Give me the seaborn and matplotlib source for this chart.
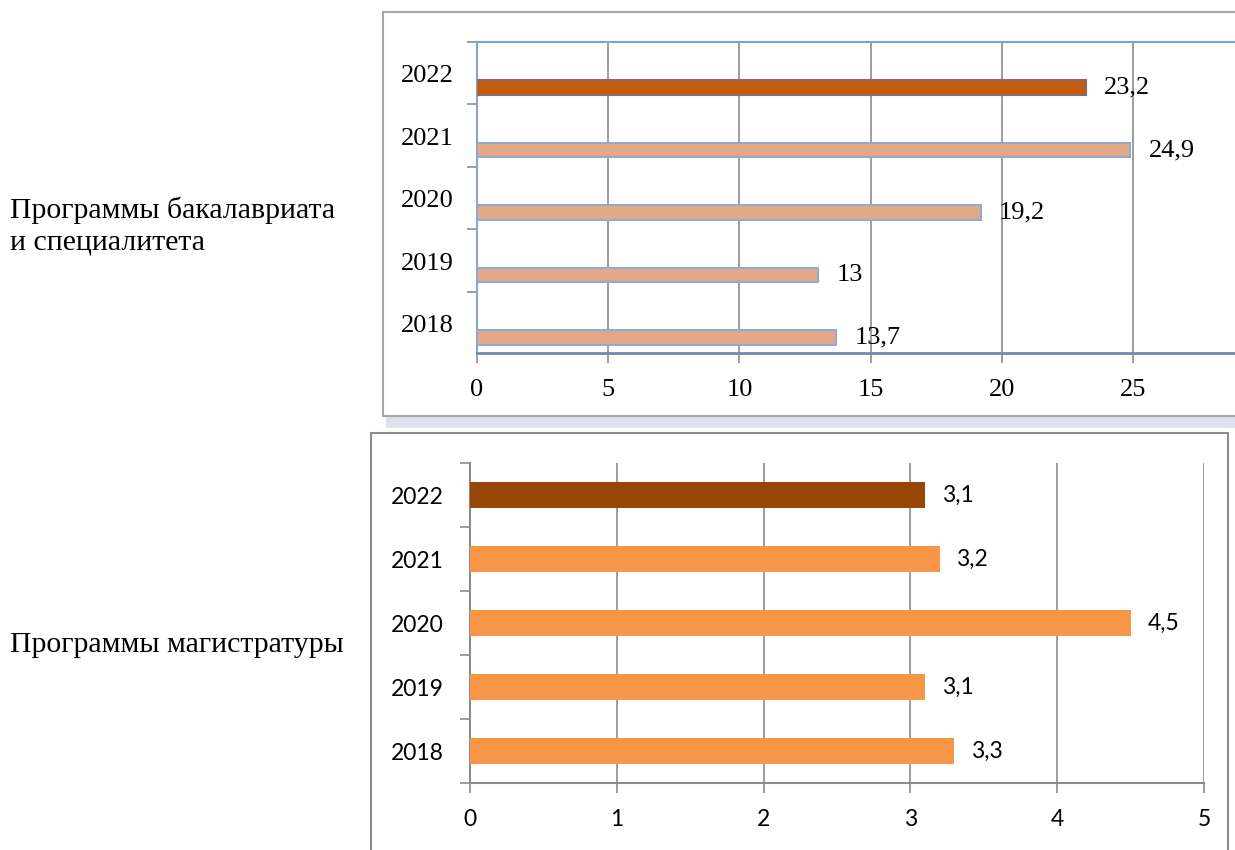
import numpy as np
import pandas as pd
import seaborn as sns
import matplotlib.pyplot as plt
from matplotlib.patches import Rectangle
from matplotlib.ticker import FixedLocator

# data
years = ['2022', '2021', '2020', '2019', '2018']
bachelor = [23.2, 24.9, 19.2, 13.0, 13.7]
master = [3.1, 3.2, 4.5, 3.1, 3.3]
label_bach = 'Программы бакалавриата\nи специалитета'
label_mast = 'Программы магистратуры'

sns.set_style('white')
plt.rcParams['font.family'] = ['Liberation Serif', 'DejaVu Serif']
plt.rcParams['text.color'] = 'black'
plt.rcParams['xtick.color'] = 'black'
plt.rcParams['ytick.color'] = 'black'

W, H = 1235, 850
fig = plt.figure(figsize=(W / 100, H / 100), dpi=100)

def fx(px):
    return px / W

def fy(py):
    return 1 - py / H

def fmt(v):
    return (f'{v:g}').replace('.', ',')

# frames behind the charts
fig.patches.append(Rectangle((fx(386), fy(428)), fx(1235 - 386), 13 / H,
                             transform=fig.transFigure, facecolor='#dde2ea',
                             edgecolor='none', zorder=-10))
fig.patches.append(Rectangle((fx(383), fy(416)), fx(900), 404 / H,
                             transform=fig.transFigure, facecolor='white',
                             edgecolor='#a6a6a6', lw=1.5, zorder=-10))
fig.patches.append(Rectangle((fx(371), fy(870)), fx(1228 - 371), 437 / H,
                             transform=fig.transFigure, facecolor='white',
                             edgecolor='#8c8c8c', lw=1.5, zorder=-10))

# ---------------- top chart ----------------
px_unit = (1133 - 477) / 25
ax1 = fig.add_axes([fx(477), fy(353), 30 * px_unit / W, 311 / H])
ax1.patch.set_alpha(0)
df1 = pd.DataFrame({'year': years, 'value': bachelor})
pal1 = {y: ('#c55a11' if y == '2022' else '#e3a986') for y in years}
sns.barplot(data=df1, x='value', y='year', hue='year', palette=pal1,
            order=years, legend=False, width=0.23, orient='h',
            saturation=1, ax=ax1)
for p, y in zip(ax1.patches, years):
    p.set_edgecolor('#8d6c63' if y == '2022' else '#90aad0')
    p.set_linewidth(1.5)
    p.set_zorder(3)
for c in ax1.containers:
    ax1.bar_label(c, labels=[fmt(v) for v in c.datavalues], padding=13,
                  fontsize=19, family=['Liberation Serif'])

ax1.set_xlim(0, 30)
ax1.set_ylim(4.25, -0.73)
ax1.set_xticks(range(0, 30, 5))
ax1.set_xticklabels([str(t) for t in range(0, 30, 5)])
ax1.set_yticks([i - 0.22 for i in range(len(years))])
ax1.set_yticklabels(years)
ax1.yaxis.set_minor_locator(FixedLocator([i - 0.73 for i in range(6)]))
ax1.tick_params(axis='y', which='major', length=0, pad=17, labelsize=19)
ax1.tick_params(axis='y', which='minor', left=True, length=7, width=1.2,
                color='#8c8c8c')
ax1.tick_params(axis='x', bottom=True, length=7, width=1.2, color='#8c8c8c',
                pad=12, labelsize=19)
ax1.grid(axis='x', color='#8c8c8c', lw=1.2, zorder=0)
ax1.set_axisbelow(True)
ax1.set_xlabel('')
ax1.set_ylabel('')
ax1.spines['top'].set_color('#7ea3d3')
ax1.spines['top'].set_linewidth(1.5)
ax1.spines['left'].set_color('#8aa6cc')
ax1.spines['left'].set_linewidth(1.5)
ax1.spines['bottom'].set_color('#6f8ab0')
ax1.spines['bottom'].set_linewidth(2)
ax1.spines['right'].set_visible(False)

# ---------------- bottom chart ----------------
ax2 = fig.add_axes([fx(470), fy(783), (1204 - 470) / W, 320 / H])
ax2.patch.set_alpha(0)
df2 = pd.DataFrame({'year': years, 'value': master})
pal2 = {y: ('#974706' if y == '2022' else '#f79646') for y in years}
sns.barplot(data=df2, x='value', y='year', hue='year', palette=pal2,
            order=years, legend=False, width=0.4, orient='h',
            saturation=1, linewidth=0, ax=ax2)
for p in ax2.patches:
    p.set_zorder(3)
for c in ax2.containers:
    ax2.bar_label(c, labels=[fmt(v) for v in c.datavalues], padding=12,
                  fontsize=16.5, family=['Lato', 'DejaVu Sans'])

ax2.set_xlim(0, 5)
ax2.set_ylim(4.5, -0.5)
ax2.set_xticks(range(0, 6))
ax2.set_xticklabels([str(t) for t in range(0, 6)], family=['Lato', 'DejaVu Sans'])
ax2.set_yticks(range(len(years)))
ax2.set_yticklabels(years, family=['Lato', 'DejaVu Sans'])
ax2.yaxis.set_minor_locator(FixedLocator([i - 0.5 for i in range(6)]))
ax2.tick_params(axis='y', which='major', length=0, pad=19, labelsize=16.5)
ax2.tick_params(axis='y', which='minor', left=True, length=7, width=1.2,
                color='#8c8c8c')
ax2.tick_params(axis='x', bottom=True, length=7, width=1.2, color='#8c8c8c',
                pad=12, labelsize=16.5)
ax2.grid(axis='x', color='#8c8c8c', lw=1.2, zorder=0)
ax2.set_axisbelow(True)
ax2.set_xlabel('')
ax2.set_ylabel('')
for s in ['left', 'bottom']:
    ax2.spines[s].set_color('#8c8c8c')
    ax2.spines[s].set_linewidth(1.5)
ax2.spines['top'].set_visible(False)
ax2.spines['right'].set_visible(False)

# left-side captions
fig.text(fx(10), fy(226), label_bach, ha='left', va='center', fontsize=21.5,
         linespacing=1.3, family=['Liberation Serif'])
fig.text(fx(10), fy(645), label_mast, ha='left', va='center', fontsize=21.5,
         family=['Liberation Serif'])

fig.savefig('out.png', dpi=100)
